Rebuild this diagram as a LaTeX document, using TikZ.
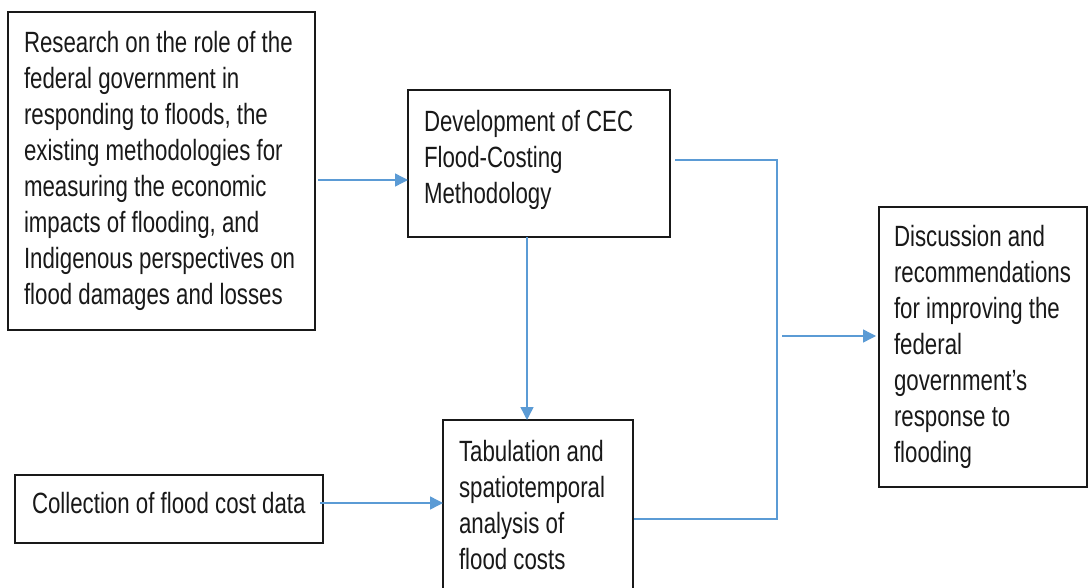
\documentclass[tikz,border=0pt]{standalone}
\usepackage{fontspec}
\setmainfont[FakeStretch=0.76]{Liberation Sans}
\usepackage{tikz}
\usetikzlibrary{positioning}
\usetikzlibrary{arrows.meta}

\definecolor{flowblue}{HTML}{5B9BD5}
\definecolor{inkgray}{RGB}{25,25,25}
\newcommand{\stagefont}{\fontsize{29.3pt}{36pt}\selectfont\fontdimen2\font=6.2pt\relax}

\begin{document}
\begin{tikzpicture}[x=1pt, y=-1pt,
    stage/.style={draw=inkgray, line width=1.3pt, outer sep=0pt, inner xsep=16pt, inner ysep=4pt,
        align=flush left, text=inkgray, font=\stagefont},
    flow/.style={draw=flowblue, line width=1.4pt, -{Triangle[length=13pt,width=13pt]}},
    link/.style={draw=flowblue, line width=1.4pt}]

    \clip (0,0) rectangle (1089,588);
    \fill[white] (0,0) rectangle (1089,588);

    \node [stage, anchor=north west, text width=275pt, minimum height=318pt] (research) at (8,12)
        {Research on the role of the\\ federal government in\\ responding to floods, the\\
         existing methodologies for\\ measuring the economic\\ impacts of flooding, and\\
         Indigenous perspectives on\\ flood damages and losses};

    \node [stage, below right=78pt and 93pt of research.north east, text width=230pt, minimum height=147pt] (method)
        {Development of CEC\\ Flood-Costing\\ Methodology\rule[-14pt]{0pt}{1pt}};

    % data
    \node [stage, below right=145pt and 7pt of research.south west, inner xsep=17pt, text width=274pt, minimum height=68pt] (collect)
        {Collection of flood cost data\rule[-12pt]{0pt}{1pt}};

    \node [stage, below right=183pt and 35pt of method.south west, text width=158pt, minimum height=171pt] (tabulate)
        {Tabulation and\\ spatiotemporal\\ analysis of\\ flood costs};

    % outcome
    \node [stage, below right=117pt and 209pt of method.north east, inner xsep=15pt, text width=178pt, minimum height=280pt] (discuss)
        {Discussion and\\ recommendations\\ for improving the\\ federal\\ government's\\ response to\\ flooding};

    \coordinate (outR) at ([xshift=3pt,yshift=-9pt]research.east);
    \coordinate (outC) at ([xshift=-3pt,yshift=6pt]collect.east);
    \coordinate (outM) at ([xshift=-12pt]method.south);
    \coordinate (topM) at ([xshift=5pt,yshift=3.5pt]method.east);
    \coordinate (inT) at ([xshift=1pt,yshift=-13.5pt]tabulate.east);
    \coordinate (inD) at ([xshift=-3pt,yshift=11pt]discuss.west);

    \draw [flow] (outR) -- (outR -| method.west);
    \draw [flow] (outC) -- (outC -| tabulate.west);
    \draw [flow] (outM) -- (outM |- tabulate.north);

    \draw [link] (topM) -- ++(102pt,0) |- (inT);
    \draw [flow] ([xshift=-94pt]inD) -- (inD);

\end{tikzpicture}
\end{document}
